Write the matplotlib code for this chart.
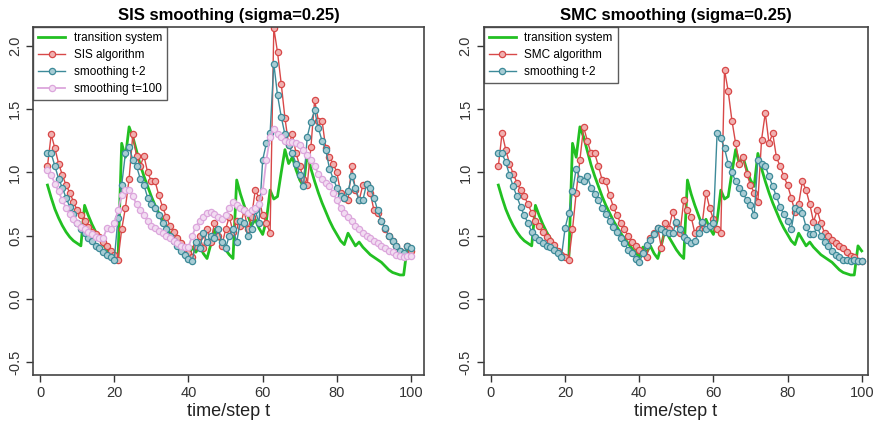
import matplotlib
matplotlib.use('Agg')
import matplotlib.pyplot as plt

plt.rcParams['font.family'] = ['Liberation Sans', 'DejaVu Sans']

t = list(range(2, 101))

# transition system (same in both panels)
transition = [0.90, 0.80, 0.71, 0.64, 0.58, 0.53, 0.49, 0.46, 0.44, 0.42,
              0.74, 0.66, 0.59, 0.53, 0.48, 0.43, 0.39, 0.36, 0.33, 0.31,
              1.23, 1.12, 1.36, 1.28, 1.17, 1.06, 0.97, 0.89, 0.81, 0.74,
              0.68, 0.62, 0.57, 0.52, 0.48, 0.44, 0.40, 0.37, 0.33, 0.41,
              0.37, 0.42, 0.36, 0.32, 0.43, 0.55, 0.49, 0.44, 0.39, 0.35,
              0.32, 0.94, 0.83, 0.74, 0.66, 0.58, 0.63, 0.56, 0.51, 0.62,
              0.86, 0.79, 0.81, 1.00, 1.18, 1.07, 1.12, 1.02, 0.94, 0.89,
              1.15, 1.03, 0.93, 0.84, 0.76, 0.69, 0.62, 0.56, 0.51, 0.46,
              0.43, 0.52, 0.47, 0.42, 0.45, 0.41, 0.38, 0.35, 0.33, 0.31,
              0.29, 0.26, 0.23, 0.21, 0.20, 0.19, 0.19, 0.42, 0.38]

sis = [1.05, 1.30, 1.19, 1.07, 0.98, 0.90, 0.84, 0.77, 0.70, 0.66,
       0.62, 0.57, 0.53, 0.51, 0.49, 0.45, 0.42, 0.38, 0.35, 0.31,
       0.55, 0.72, 0.95, 1.30, 1.13, 1.05, 1.13, 1.00, 0.93, 0.93,
       0.82, 0.73, 0.65, 0.58, 0.53, 0.48, 0.44, 0.40, 0.36, 0.33,
       0.42, 0.50, 0.40, 0.55, 0.45, 0.60, 0.50, 0.42, 0.55, 0.65,
       0.53, 0.62, 0.58, 0.70, 0.55, 0.65, 0.86, 0.80, 0.66, 0.60,
       0.52, 2.14, 1.95, 1.70, 1.43, 1.22, 1.30, 1.15, 1.05, 0.95,
       0.90, 1.20, 1.57, 1.41, 1.41, 1.19, 1.12, 1.07, 1.00, 0.84,
       0.80, 0.78, 1.05, 0.86, 0.78, 0.90, 0.91, 0.84, 0.70, 0.68,
       0.62, 0.55, 0.50, 0.46, 0.42, 0.38, 0.35, 0.42, 0.38]

sis_smooth = [1.15, 1.15, 1.05, 0.95, 0.88, 0.80, 0.73, 0.67, 0.60, 0.55,
              0.52, 0.48, 0.46, 0.42, 0.40, 0.37, 0.35, 0.33, 0.31, 0.64,
              0.90, 1.15, 1.20, 1.10, 1.05, 0.95, 0.90, 0.80, 0.75, 0.72,
              0.66, 0.60, 0.55, 0.50, 0.46, 0.42, 0.38, 0.35, 0.32, 0.30,
              0.45, 0.40, 0.52, 0.45, 0.50, 0.48, 0.55, 0.45, 0.40, 0.50,
              0.55, 0.45, 0.62, 0.60, 0.50, 0.55, 0.70, 0.60, 1.10, 1.23,
              1.31, 1.86, 1.61, 1.44, 1.30, 1.22, 1.15, 1.07, 0.98, 0.89,
              1.28, 1.40, 1.49, 1.35, 1.25, 1.18, 1.03, 0.95, 0.88, 0.81,
              0.80, 0.85, 0.97, 0.88, 0.78, 0.78, 0.91, 0.88, 0.80, 0.70,
              0.62, 0.56, 0.50, 0.46, 0.42, 0.38, 0.36, 0.42, 0.40]

sis_smooth100 = [1.02, 0.98, 0.91, 0.85, 0.78, 0.72, 0.67, 0.63, 0.60, 0.57,
                 0.55, 0.53, 0.51, 0.49, 0.48, 0.48, 0.56, 0.55, 0.60, 0.70,
                 0.82, 0.86, 0.86, 0.81, 0.75, 0.70, 0.66, 0.62, 0.58, 0.56,
                 0.54, 0.52, 0.50, 0.48, 0.46, 0.44, 0.42, 0.41, 0.41, 0.50,
                 0.57, 0.62, 0.65, 0.68, 0.69, 0.67, 0.65, 0.63, 0.66, 0.72,
                 0.77, 0.74, 0.72, 0.70, 0.68, 0.70, 0.72, 0.75, 0.85, 1.10,
                 1.28, 1.34, 1.30, 1.28, 1.25, 1.24, 1.24, 1.23, 1.22, 1.18,
                 1.14, 1.10, 1.05, 0.99, 0.95, 0.92, 0.89, 0.84, 0.78, 0.72,
                 0.68, 0.65, 0.62, 0.58, 0.55, 0.52, 0.50, 0.48, 0.46, 0.44,
                 0.42, 0.40, 0.38, 0.37, 0.35, 0.34, 0.33, 0.34, 0.34]

smc = [1.05, 1.31, 1.18, 1.07, 0.99, 0.92, 0.86, 0.81, 0.75, 0.68,
       0.62, 0.58, 0.53, 0.49, 0.46, 0.43, 0.38, 0.35, 0.33, 0.31,
       0.55, 0.84, 1.10, 1.36, 1.25, 1.15, 1.15, 1.05, 0.94, 0.93,
       0.82, 0.73, 0.66, 0.60, 0.55, 0.50, 0.45, 0.42, 0.39, 0.36,
       0.33, 0.48, 0.52, 0.56, 0.40, 0.60, 0.55, 0.69, 0.60, 0.52,
       0.78, 0.70, 0.65, 0.52, 0.55, 0.60, 0.84, 0.72, 0.63, 0.55,
       0.52, 1.81, 1.64, 1.41, 1.23, 1.07, 1.12, 0.99, 0.90, 0.84,
       0.77, 1.26, 1.47, 1.23, 1.31, 1.12, 1.05, 0.97, 0.90, 0.80,
       0.69, 0.75, 0.93, 0.86, 0.75, 0.61, 0.70, 0.60, 0.52, 0.50,
       0.47, 0.44, 0.42, 0.40, 0.37, 0.34, 0.33, 0.30, 0.30]

smc_smooth = [1.15, 1.15, 1.08, 0.98, 0.89, 0.81, 0.73, 0.66, 0.60, 0.53,
              0.49, 0.47, 0.44, 0.42, 0.41, 0.39, 0.36, 0.33, 0.56, 0.68,
              0.85, 1.03, 0.95, 0.93, 0.97, 0.88, 0.83, 0.78, 0.72, 0.67,
              0.62, 0.57, 0.53, 0.48, 0.44, 0.39, 0.36, 0.32, 0.29, 0.36,
              0.43, 0.47, 0.51, 0.56, 0.55, 0.53, 0.52, 0.52, 0.61, 0.55,
              0.49, 0.47, 0.44, 0.46, 0.52, 0.61, 0.55, 0.58, 0.60, 1.31,
              1.27, 1.19, 1.07, 1.00, 0.93, 0.88, 0.84, 0.78, 0.74, 0.66,
              1.10, 1.07, 1.05, 0.97, 0.89, 0.81, 0.73, 0.67, 0.62, 0.55,
              0.72, 0.70, 0.68, 0.57, 0.51, 0.51, 0.57, 0.50, 0.45, 0.42,
              0.38, 0.35, 0.33, 0.31, 0.31, 0.30, 0.31, 0.30, 0.30]

GREEN = '#22c022'
RED = '#d84848'
TEAL = '#3d8a99'
PINK = '#dca6dc'


def dotted(ax, y, color, fill, label, lw=1.0):
    ax.plot(t, y, '-', color=color, lw=lw, marker='o', ms=4.5, mec=color,
            mfc=fill, mew=0.9, label=label)


def style(ax, title, xlim):
    ax.set_xlim(*xlim)
    ax.set_ylim(-0.6, 2.15)
    ax.set_xticks([0, 20, 40, 60, 80, 100])
    ax.set_yticks([-0.5, 0.0, 0.5, 1.0, 1.5, 2.0])
    ax.set_yticklabels(['-0.5', '0.0', '0.5', '1.0', '1.5', '2.0'],
                       rotation=90, va='center')
    ax.tick_params(direction='out', length=5, width=1, labelsize=10.5,
                   colors='#333333', pad=3)
    for s in ax.spines.values():
        s.set_color('#444444')
        s.set_linewidth(1.2)
    ax.set_xlabel('time/step t', fontsize=13, color='#222222', labelpad=2)
    ax.set_title(title, fontsize=12, fontweight='bold', pad=5)
    leg = ax.legend(loc='upper left', fontsize=8.5, frameon=True,
                    fancybox=False, borderaxespad=0, handlelength=2.3,
                    labelspacing=0.42, borderpad=0.45, handletextpad=0.7)
    leg.get_frame().set_edgecolor('#333333')
    leg.get_frame().set_linewidth(1.0)


fig = plt.figure(figsize=(8.78, 4.33), dpi=100)
ax1 = fig.add_axes([0.0376, 0.134, 0.4454, 0.804])
ax2 = fig.add_axes([0.5507, 0.134, 0.4379, 0.804])

ax1.plot(t, transition, '-', color=GREEN, lw=2, label='transition system')
dotted(ax1, sis, RED, '#f0b0b0', 'SIS algorithm')
dotted(ax1, sis_smooth, TEAL, '#a8ccd4', 'smoothing t-2')
dotted(ax1, sis_smooth100, PINK, '#f2dcf2', 'smoothing t=100', lw=1.3)
style(ax1, 'SIS smoothing (sigma=0.25)', (-1.9, 103.5))

ax2.plot(t, transition, '-', color=GREEN, lw=2, label='transition system')
dotted(ax2, smc, RED, '#f0b0b0', 'SMC algorithm')
dotted(ax2, smc_smooth, TEAL, '#a8ccd4', 'smoothing t-2')
style(ax2, 'SMC smoothing (sigma=0.25)', (-2.0, 101.7))

fig.savefig('out.png', dpi=100)
